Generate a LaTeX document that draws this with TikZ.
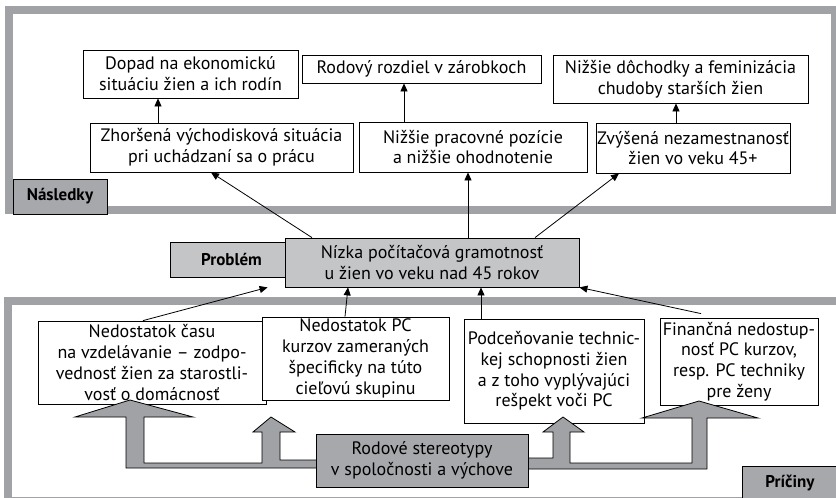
\documentclass[tikz,border=0pt]{standalone}
\usepackage{fontspec}
\setmainfont{PT Sans}
\usetikzlibrary{arrows.meta}
\definecolor{framegrey}{RGB}{160,162,165}
\definecolor{paleGrey}{RGB}{196,197,199}
\definecolor{midGrey}{RGB}{167,168,171}
\newcommand{\comma}{,}
\tikzset{
  box/.style={draw=black,fill=white,line width=0.8pt,align=center,inner sep=1pt,
    font=\fontsize{18}{20.8}\selectfont},
  tag/.style={draw=black,fill=midGrey,line width=0.8pt,inner sep=0pt,
    font=\fontsize{17}{20.5}\selectfont\bfseries},
  arr/.style={line width=0.8pt,-{Triangle[length=8pt,width=7pt]}},
  blockarrow/.style={draw=black,fill=framegrey,line width=0.8pt,line join=miter}
}

\begin{document}
\begin{tikzpicture}[x=1pt,y=-1pt]
  \useasboundingbox (0,0) rectangle (836,498);
  \draw[framegrey,line width=8pt] (9,10) rectangle (835,209.5);
  \draw[framegrey,line width=8pt] (8,301) rectangle (842,501);

  \foreach \n/\x/\y/\w/\h/\t in {
    A/190.5/74/215/48/Dopad na ekonomickú\\situáciu žien a ich rodín,
    B/421.5/69/239/28/Rodový rozdiel v zárobkoch,
    C/680.5/79/255/48/Nižšie dôchodky a feminizácia\\chudoby starších žien,
    D/221.5/147.5/263/49/Zhoršená východisková situácia\\pri uchádzaní sa o prácu,
    E/473/147/228/50/Nižšie pracovné pozície\\a nižšie ohodnotenie,
    F/693/148/188/50/Zvýšená nezamestnanosť\\žien vo veku 45+,
    G/152/362.5/228/83/Nedostatok času\\na vzdelávanie – zodpo-\\vednosť žien za starostli-\\vosť o domácnosť,
    H/355.5/358.5/187/83/Nedostatok PC\\kurzov zameraných\\špecificky na túto\\cieľovú skupinu,
    I/554/371/180/104/Podceňovanie technic-\\kej schopnosti žien\\a z toho vyplývajúci\\rešpekt voči PC,
    J/739/361.5/158/87/Finančná nedostup-\\nosť PC kurzov\comma\\resp. PC techniky\\pre ženy}
    \node[box,minimum width=\w pt,minimum height=\h pt] (\n) at (\x,\y) {\t};

  \node[tag] (nasledky) at (60,196.5) [minimum width=94pt,minimum height=35pt] {Následky};
  \node[tag,fill=paleGrey] (problem) at (231.5,259.5) [minimum width=123pt,minimum height=35pt] {Problém};
  \node[box,fill=paleGrey,minimum width=294pt,minimum height=49pt] (P) at (432,262.5)
    {Nízka počítačová gramotnosť\\u žien vo veku nad 45 rokov};
  \node[tag] (priciny) at (790,483) [minimum width=96pt,minimum height=34pt] {Príčiny};

  \draw[arr] ([xshift=-63.5pt]D.north) -- ([xshift=-32.5pt]A.south);
  \draw[arr] ([xshift=-69pt]E.north) -- ([xshift=-17.5pt]B.south);
  \draw[arr] ([xshift=-17pt]F.north) -- ([xshift=-4.5pt]C.south);
  \draw[arr] ([xshift=-120pt]P.north) -- ([xshift=-10.5pt]D.south);
  \draw[arr] ([xshift=36pt]P.north) -- ([xshift=-5pt]E.south);
  \draw[arr] ([xshift=103pt]P.north) -- ([xshift=-74pt]F.south);
  \draw[arr] ([xshift=-9pt]G.north) -- ([xshift=-17pt]P.south west);
  \draw[arr] ([xshift=-10.5pt]H.north) -- ([xshift=-84pt]P.south);
  \draw[arr] ([xshift=-73pt]I.north) -- ([xshift=49pt]P.south);
  \draw[arr] ([xshift=-38pt,yshift=4pt]J.north) -- (P.south east);

  \draw[blockarrow] (320,468) -- (126,468) -- (126,417) -- (75,417) -- (130,400) -- (193,417)
    -- (144,417) -- (144,463) -- (262,463) -- (262,432) -- (253,432) -- (271,417)
    -- (295,432) -- (280,432) -- (280,460) -- (320,460) -- cycle;
  \draw[blockarrow] (524,469) -- (707,469) -- (707,418) -- (758,418) -- (699,401) -- (642,418)
    -- (692,418) -- (692,463) -- (570,463) -- (570,432) -- (584,432) -- (563,417)
    -- (543,432) -- (553,432) -- (553,458) -- (524,458) -- cycle;
  \node[box,fill=midGrey,minimum width=212pt,minimum height=53pt] (S) at (422,460.5)
    {Rodové stereotypy\\v spoločnosti a výchove};
\end{tikzpicture}
\end{document}
